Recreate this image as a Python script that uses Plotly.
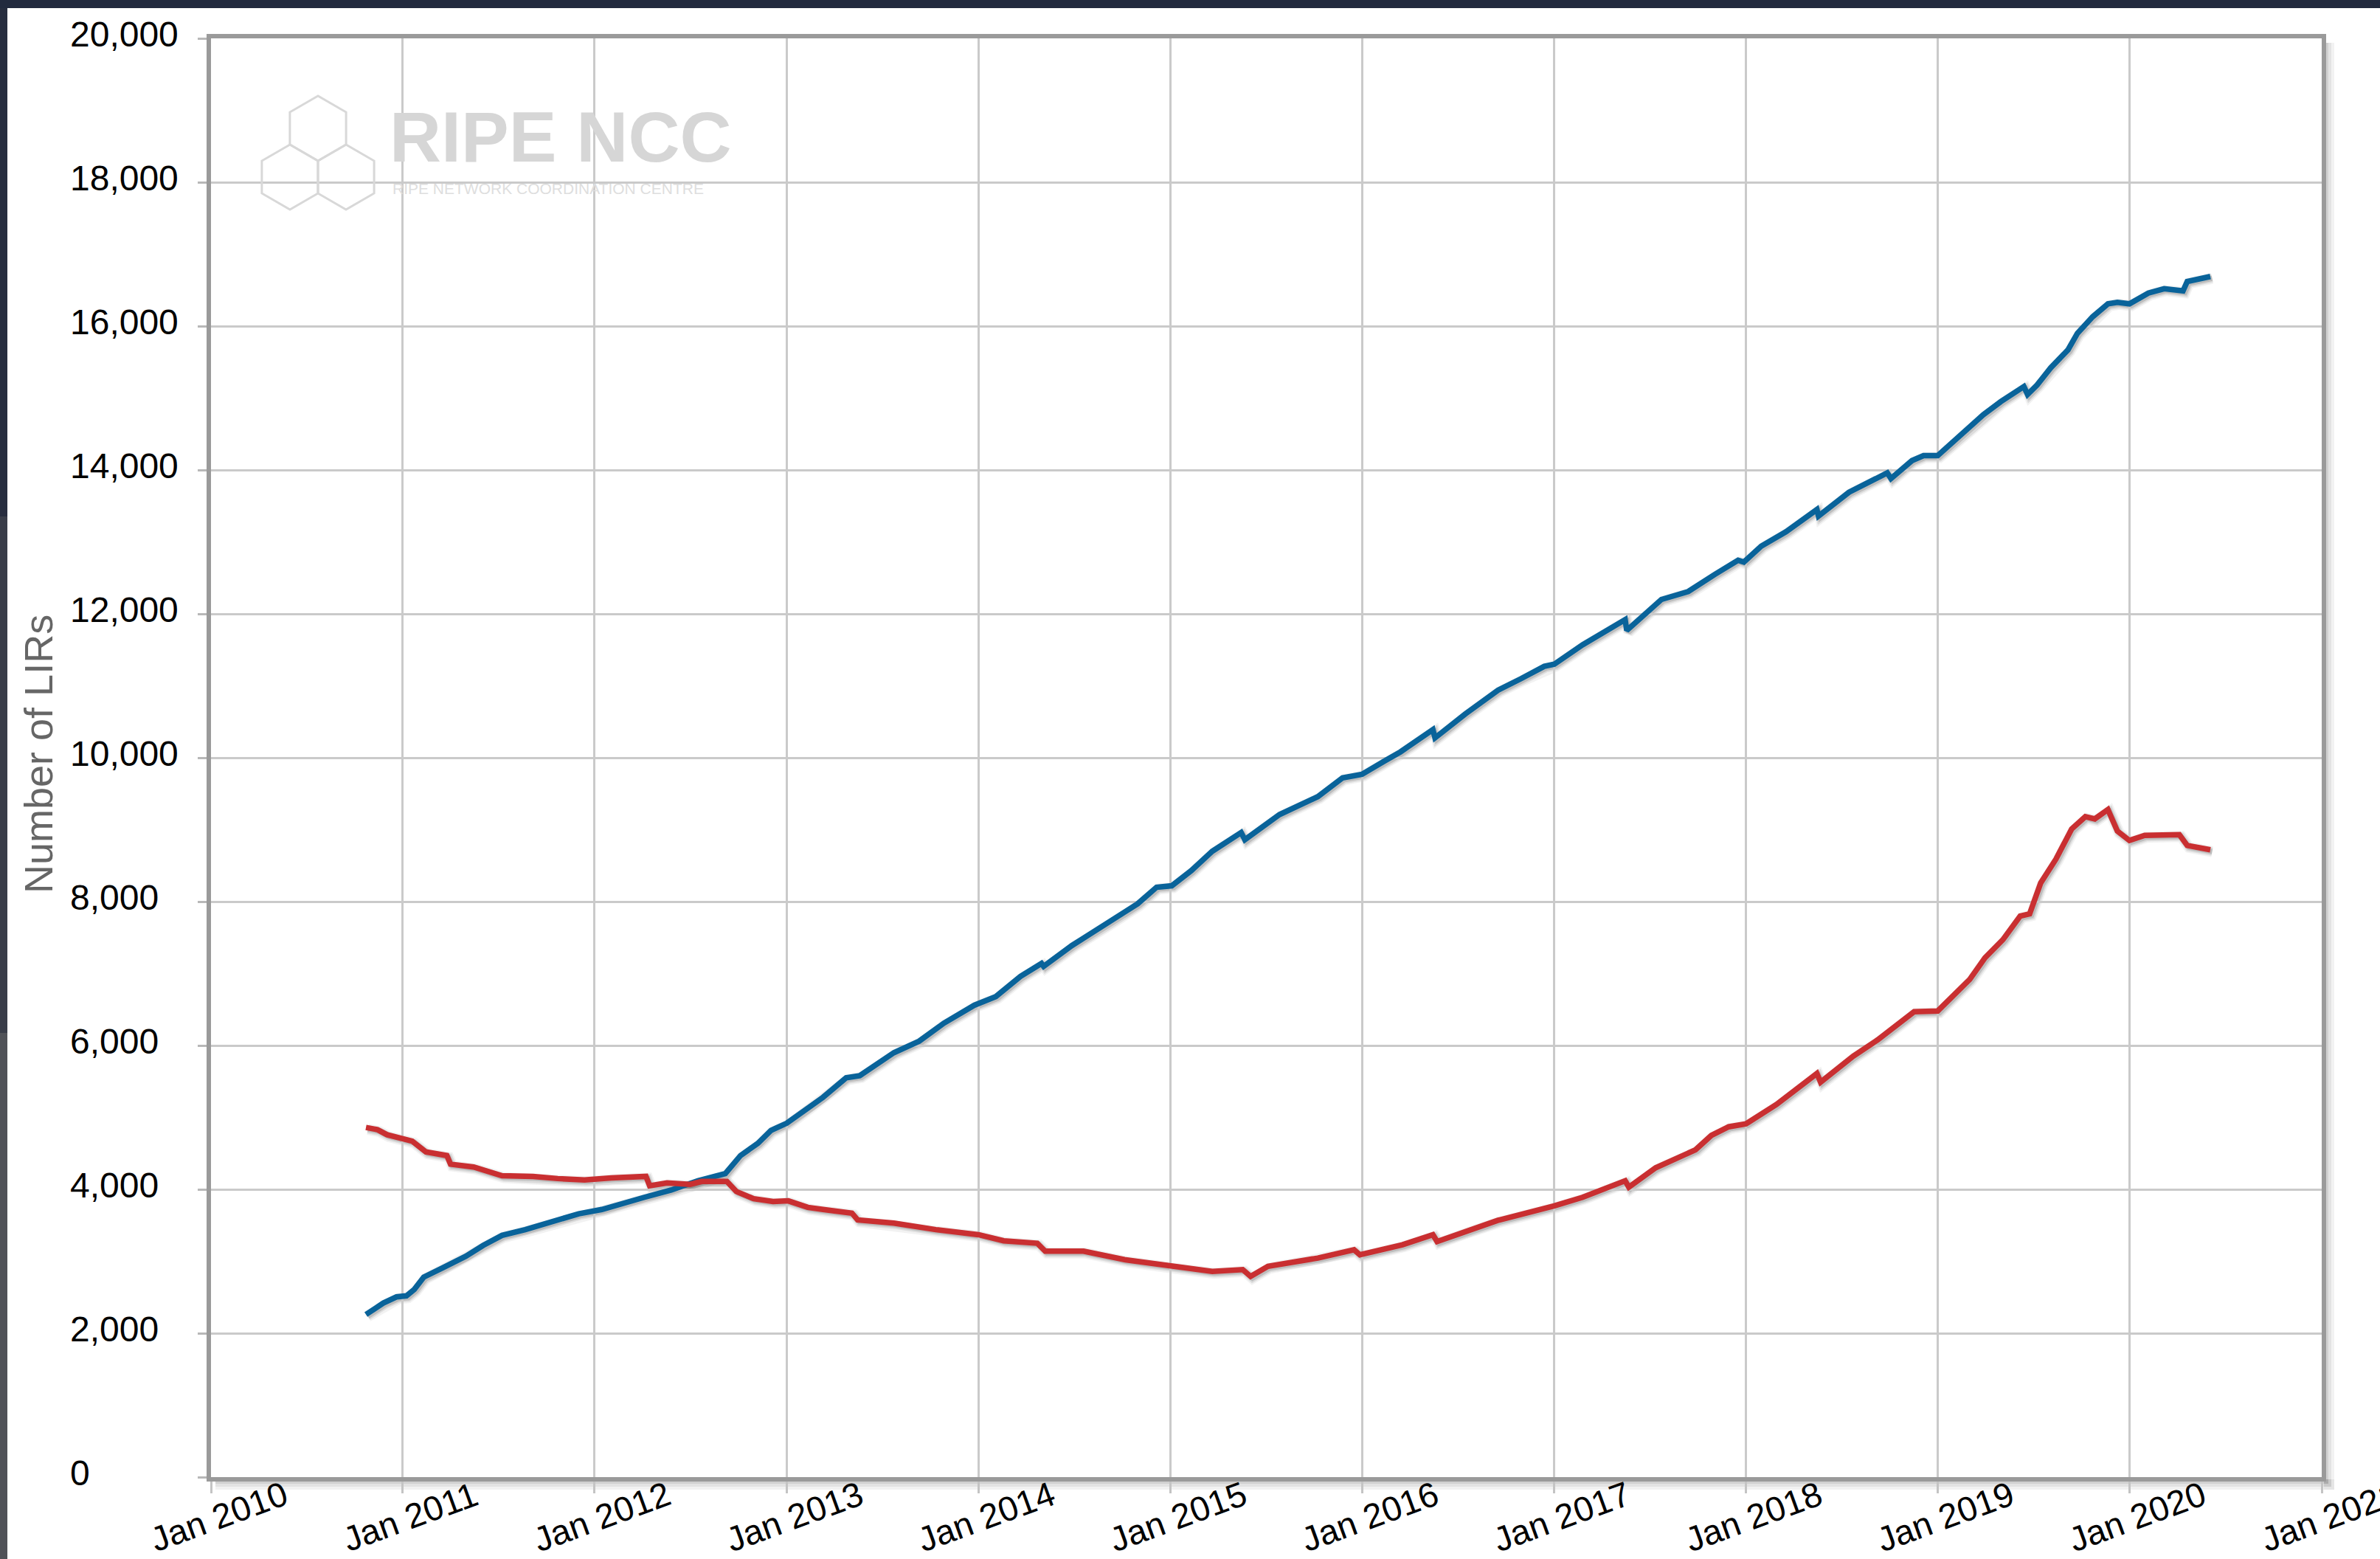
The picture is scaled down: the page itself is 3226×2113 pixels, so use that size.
import plotly.graph_objects as go
import pandas as pd

# ---------------- data ----------------
blue_dates = [
    "2010-10-23", "2010-11-25", "2010-12-20", "2011-01-08", "2011-01-23", "2011-02-10",
    "2011-03-18", "2011-05-01", "2011-06-03", "2011-07-09", "2011-08-22", "2011-10-12",
    "2011-12-02", "2012-01-15", "2012-02-28", "2012-04-05", "2012-05-26", "2012-07-16",
    "2012-09-06", "2012-09-13", "2012-10-05", "2012-11-07", "2012-12-02", "2013-01-01",
    "2013-02-03", "2013-03-11", "2013-04-24", "2013-05-20", "2013-07-24", "2013-09-10",
    "2013-10-27", "2013-12-24", "2014-02-03", "2014-03-22", "2014-05-01", "2014-05-05",
    "2014-06-28", "2014-08-29", "2014-10-31", "2014-12-06", "2015-01-04", "2015-02-10",
    "2015-03-22", "2015-05-16", "2015-05-23", "2015-07-28", "2015-10-09", "2015-11-25",
    "2016-01-01", "2016-02-14", "2016-03-14", "2016-05-15", "2016-05-19", "2016-07-16",
    "2016-09-16", "2016-10-30", "2016-12-13", "2017-01-01", "2017-02-24", "2017-05-16",
    "2017-05-19", "2017-07-24", "2017-09-13", "2017-11-03", "2017-12-17", "2017-12-28",
    "2018-01-30", "2018-03-18", "2018-05-16", "2018-05-19", "2018-07-16", "2018-09-27",
    "2018-10-04", "2018-11-13", "2018-12-05", "2019-01-01", "2019-01-30", "2019-02-25",
    "2019-03-29", "2019-05-01", "2019-06-14", "2019-06-21", "2019-07-09", "2019-08-04",
    "2019-09-06", "2019-09-24", "2019-10-23", "2019-11-21", "2019-12-09", "2020-01-01",
    "2020-02-06", "2020-03-07", "2020-04-01", "2020-04-12", "2020-04-20", "2020-06-03",
]
blue_values = [
    2260, 2420, 2505, 2520, 2610, 2780,
    2910, 3070, 3220, 3360, 3440, 3550,
    3660, 3720, 3820, 3890, 3990, 4120,
    4220, 4280, 4470, 4640, 4820, 4920,
    5100, 5280, 5550, 5580, 5900, 6060,
    6310, 6560, 6680, 6960, 7140, 7100,
    7390, 7670, 7970, 8200, 8220, 8430,
    8700, 8960, 8860, 9210, 9460, 9720,
    9770, 9960, 10080, 10390, 10276, 10610,
    10940, 11100, 11270, 11300, 11570, 11920,
    11770, 12200, 12310, 12550, 12745, 12720,
    12940, 13140, 13450, 13360, 13690, 13960,
    13880, 14130, 14200, 14200, 14390, 14560,
    14770, 14950, 15160, 15050, 15180, 15420,
    15670, 15900, 16130, 16310, 16330, 16310,
    16460, 16520, 16500, 16490, 16620, 16690,
]

red_dates = [
    "2010-10-23", "2010-11-14", "2010-12-02", "2011-01-19", "2011-02-14", "2011-03-26",
    "2011-04-02", "2011-05-16", "2011-07-09", "2011-09-06", "2011-10-23", "2011-12-13",
    "2012-02-02", "2012-04-08", "2012-04-15", "2012-05-18", "2012-07-01", "2012-07-23",
    "2012-09-09", "2012-09-27", "2012-10-30", "2012-12-06", "2013-01-04", "2013-02-10",
    "2013-03-11", "2013-05-05", "2013-05-16", "2013-07-24", "2013-10-12", "2014-01-01",
    "2014-02-18", "2014-04-23", "2014-05-08", "2014-07-20", "2014-10-08", "2015-01-04",
    "2015-03-22", "2015-05-19", "2015-06-03", "2015-07-06", "2015-10-09", "2015-12-17",
    "2015-12-28", "2016-03-18", "2016-05-15", "2016-05-23", "2016-07-16", "2016-09-16",
    "2017-01-01", "2017-02-24", "2017-05-16", "2017-05-23", "2017-07-13", "2017-09-27",
    "2017-10-27", "2017-11-29", "2018-01-01", "2018-02-28", "2018-05-16", "2018-05-23",
    "2018-07-24", "2018-09-09", "2018-11-17", "2019-01-01", "2019-03-03", "2019-04-01",
    "2019-05-05", "2019-06-07", "2019-06-25", "2019-07-16", "2019-08-14", "2019-09-13",
    "2019-10-09", "2019-10-27", "2019-11-21", "2019-12-09", "2020-01-01", "2020-01-30",
    "2020-04-05", "2020-04-20", "2020-06-03",
]
red_values = [
    4860, 4830, 4760, 4670, 4520, 4470,
    4350, 4310, 4190, 4180, 4150, 4130,
    4160, 4180, 4050, 4090, 4070, 4110,
    4110, 3970, 3870, 3830, 3840, 3750,
    3720, 3670, 3575, 3530, 3440, 3370,
    3285, 3250, 3140, 3140, 3020, 2930,
    2860, 2885, 2790, 2930, 3045, 3160,
    3090, 3230, 3370, 3275, 3420, 3570,
    3770, 3890, 4120, 4030, 4300, 4550,
    4750, 4870, 4910, 5180, 5610, 5490,
    5850, 6080, 6470, 6480, 6920, 7220,
    7470, 7800, 7830, 8260, 8590, 9010,
    9180, 9150, 9280, 8980, 8850, 8920,
    8930, 8780, 8720,
]

y_ticks = [0, 2000, 4000, 6000, 8000, 10000, 12000, 14000, 16000, 18000, 20000]
x_tick_dates = ["2010-01-01", "2011-01-01", "2012-01-01", "2013-01-01", "2014-01-01",
                "2015-01-01", "2016-01-01", "2017-01-01", "2018-01-01", "2019-01-01",
                "2020-01-01", "2021-01-01"]
x_tick_labels = ["Jan 2010", "Jan 2011", "Jan 2012", "Jan 2013", "Jan 2014", "Jan 2015",
                 "Jan 2016", "Jan 2017", "Jan 2018", "Jan 2019", "Jan 2020", "Jan 2021"]
y_title = "Number of LIRs"
x_range = ["2010-01-01", "2021-01-01"]
y_range = [0, 20000]

BLUE = "#09639a"
RED = "#c92f31"
FONT = "Liberation Sans, Arial, Helvetica, sans-serif"

# ---------------- geometry ----------------
W, H = 3226, 2113
L, R, T, B = 286, 79, 52, 111
PW = W - L - R
PH = H - T - B


def px(x):
    return (x - L) / PW


def py(y):
    return (H - B - y) / PH


OFF = 2.5  # shadow offset in pixels
xs, xe = pd.Timestamp(x_range[0]), pd.Timestamp(x_range[1])
shadow_xrange = [xs, xe - (xe - xs) * (OFF / PW)]
shadow_yrange = [y_range[1] * OFF / PH, y_range[1]]

fig = go.Figure()

# shadows (offset subplot, drawn first)
for dates, vals in [(blue_dates, blue_values), (red_dates, red_values)]:
    for w, a in [(15, 0.05), (11, 0.09), (7, 0.14)]:
        fig.add_trace(go.Scatter(
            x=dates, y=vals, mode="lines", xaxis="x", yaxis="y",
            line=dict(color=f"rgba(0,0,0,{a})", width=w, shape="linear"),
            hoverinfo="skip", showlegend=False))

# main series
fig.add_trace(go.Scatter(x=blue_dates, y=blue_values, mode="lines", name="blue",
                         xaxis="x2", yaxis="y2", showlegend=False,
                         line=dict(color=BLUE, width=7.5)))
fig.add_trace(go.Scatter(x=red_dates, y=red_values, mode="lines", name="red",
                         xaxis="x2", yaxis="y2", showlegend=False,
                         line=dict(color=RED, width=7.5)))

annotations = []
for v in y_ticks:
    annotations.append(dict(
        x=px(93), xref="paper", y=v, yref="y2", text=f"{v:,}",
        xanchor="left", yanchor="middle", yshift=6, showarrow=False,
        font=dict(family=FONT, size=48, color="#000000")))
for d, lab in zip(x_tick_dates, x_tick_labels):
    annotations.append(dict(
        x=d, xref="x2", y=0, yref="paper", text=lab, textangle=-20,
        xanchor="center", yanchor="middle", xshift=10, yshift=-53, showarrow=False,
        font=dict(family=FONT, size=47, color="#000000")))
annotations.append(dict(
    x=px(52), xref="paper", y=py(1022), yref="paper", text=y_title, textangle=-90,
    xanchor="center", yanchor="middle", showarrow=False,
    font=dict(family=FONT, size=54, color="#666666")))
# watermark logo text
annotations.append(dict(
    x=px(526), xref="paper", y=py(186), yref="paper", text="<b>RIPE NCC</b>",
    xanchor="left", yanchor="middle", showarrow=False,
    font=dict(family=FONT, size=97, color="#d6d6d6")))
annotations.append(dict(
    x=px(530), xref="paper", y=py(255), yref="paper", text="RIPE NETWORK COORDINATION CENTRE",
    xanchor="left", yanchor="middle", showarrow=False,
    font=dict(family="Liberation Sans Narrow, Liberation Sans, sans-serif", size=21,
              color="#dedede")))

shapes = []


def rect(x0, y0, x1, y1, color, layer="above"):
    shapes.append(dict(type="rect", xref="paper", yref="paper",
                       x0=px(x0), x1=px(x1), y0=py(y1), y1=py(y0),
                       fillcolor=color, line=dict(width=0), layer=layer))


# dark window frame (top and left)
rect(0, 0, W, 11, "#222a3e")
rect(0, 11, 10, 700, "#272d3f")
rect(0, 700, 10, 1400, "#393d49")
rect(0, 1400, 10, H, "#505258")

# plot border shadow (right and bottom)
for ext, a in [(14, 0.05), (10, 0.06), (6, 0.08)]:
    rect(3150, 58, 3150 + ext, 2005 + ext, f"rgba(0,0,0,{a})", layer="below")
    rect(292, 2005, 3150 + ext, 2005 + ext, f"rgba(0,0,0,{a})", layer="below")


# hexagon logo
def hex_path(cx, cy, r):
    import math
    pts = []
    for k in range(6):
        ang = math.radians(90 + 60 * k)
        pts.append((cx + r * math.cos(ang), cy - r * math.sin(ang)))
    return "M " + " L ".join(f"{px(x):.5f},{py(y):.5f}" for x, y in pts) + " Z"


for cx, cy in [(431, 174), (393, 240), (469, 240)]:
    shapes.append(dict(type="path", xref="paper", yref="paper", path=hex_path(cx, cy, 44),
                       line=dict(color="#d8d8d8", width=3), layer="above"))

fig.update_layout(
    width=W, height=H,
    margin=dict(l=L, r=R, t=T, b=B, autoexpand=False),
    paper_bgcolor="#ffffff",
    plot_bgcolor="rgba(0,0,0,0)",
    showlegend=False,
    font=dict(family=FONT),
    xaxis=dict(domain=[OFF / PW, 1], range=shadow_xrange, type="date", visible=False,
               anchor="y", fixedrange=True),
    yaxis=dict(domain=[0, 1 - OFF / PH], range=shadow_yrange, visible=False,
               anchor="x", fixedrange=True),
    xaxis2=dict(domain=[0, 1], anchor="y2", range=x_range, type="date",
                tickvals=x_tick_dates, showticklabels=False,
                showgrid=True, gridcolor="#cacaca", gridwidth=3,
                ticks="outside", ticklen=16, tickwidth=3, tickcolor="#c4c4c4",
                showline=True, linecolor="#9a9a9a", linewidth=6, mirror=True,
                zeroline=False, automargin=False),
    yaxis2=dict(domain=[0, 1], anchor="x2", range=y_range,
                tickvals=y_ticks, showticklabels=False,
                showgrid=True, gridcolor="#cacaca", gridwidth=3,
                ticks="outside", ticklen=12, tickwidth=3, tickcolor="#b8b8b8",
                showline=True, linecolor="#9a9a9a", linewidth=6, mirror=True,
                zeroline=False, automargin=False),
    annotations=annotations,
    shapes=shapes,
)

fig.write_html(
    "out.html",
    config={"displayModeBar": False},
    post_script="document.body.style.margin='0';document.body.style.padding='0';"
                "document.documentElement.style.overflow='hidden';",
)
